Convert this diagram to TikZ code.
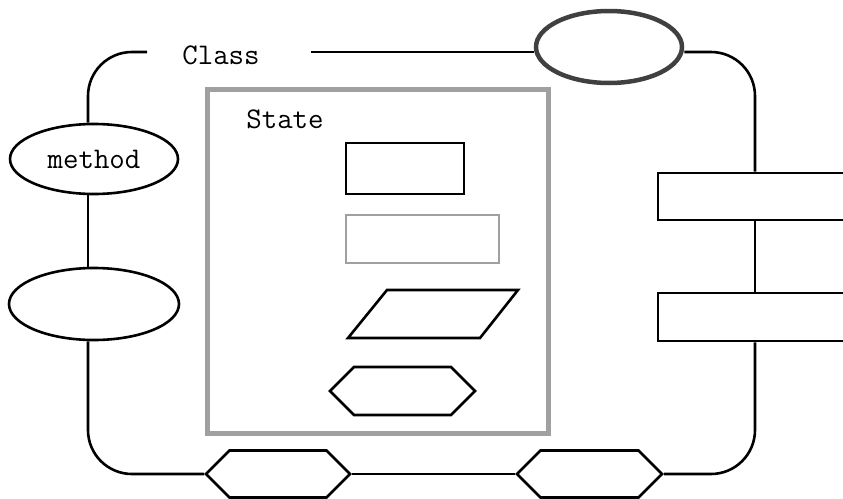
\documentclass[tikz,border=0pt]{standalone}
\usetikzlibrary{shapes.geometric, shapes.symbols}
\definecolor{mygray}{RGB}{160,160,160}
\definecolor{mydark}{RGB}{64,64,64}

\begin{document}
\begin{tikzpicture}[x=1pt, y=-1pt]
	\tikzset{wire/.style={line width=2.6pt, rounded corners=44pt}}
	\tikzset{label/.style={font=\ttfamily\fontsize{30}{34}\selectfont, inner sep=0pt}}
	\tikzset{oval/.style={draw, ellipse, line width=2.6pt, inner sep=0pt, font=\ttfamily\fontsize{30}{34}\selectfont}}
	\tikzset{box/.style={draw, rectangle, line width=2.6pt, inner sep=0pt}}
	\tikzset{hexa/.style={draw, signal, signal to=west and east, signal pointer angle=90, line width=2.6pt, inner sep=0pt}}
	
	\useasboundingbox (0,0) rectangle (843,498);
	
	\node(cls) at (221,55) [label] {Class};
	\coordinate(gapL) at (147,52);
	\coordinate(gapR) at (311,52);
	
	\node(topell) at (609,47) [oval, draw=mydark, line width=4.5pt, minimum width=146, minimum height=72] {};
	
	\node(meth) at (94,159) [oval, minimum width=168, minimum height=70] {method};
	\node(ell2) at (94,304) [oval, minimum width=170, minimum height=72] {};
	
	\node(r1) at (755,196.5) [box, minimum width=194, minimum height=47] {};
	\node(r2) at (755,317) [box, minimum width=194, minimum height=48] {};
	
	\node(hexa) at (278,474) [hexa, minimum width=144, minimum height=47] {};
	\node(hexb) at (589.5,474) [hexa, minimum width=145, minimum height=47] {};
	
	% state box
	\node(state) at (377.5,261) [box, draw=mygray, line width=5pt, minimum width=341, minimum height=344] {};
	\node(statelbl) at (285,119) [label] {State};
	
	\node(s1) at (405,168.5) [box, minimum width=118, minimum height=51] {};
	\node(s2) at (422.5,239) [box, draw=mygray, minimum width=153, minimum height=48] {};
	\draw[line width=2.6pt] (348,338) -- (387,290) -- (518,290) -- (480,338) -- cycle;
	\node(s4) at (402.5,391) [hexa, minimum width=145, minimum height=48] {};
	
	% outer loop
	\draw[wire] (gapL) -| ([xshift=-6]meth.north);
	\draw[wire] ([xshift=-6]meth.south) -- ([xshift=-6]ell2.north);
	\draw[wire] ([xshift=-6]ell2.south) |- (hexa.west);
	\draw[wire] (hexa.east) -- (hexb.west);
	\draw[wire] (hexb.east) -| (r2.south);
	\draw[wire] (r1.south) -- (r2.north);
	\draw[wire] (gapR) -- (topell.west |- gapR);
	\draw[wire] (topell.east |- gapR) -| (r1.north);
\end{tikzpicture}
\end{document}
